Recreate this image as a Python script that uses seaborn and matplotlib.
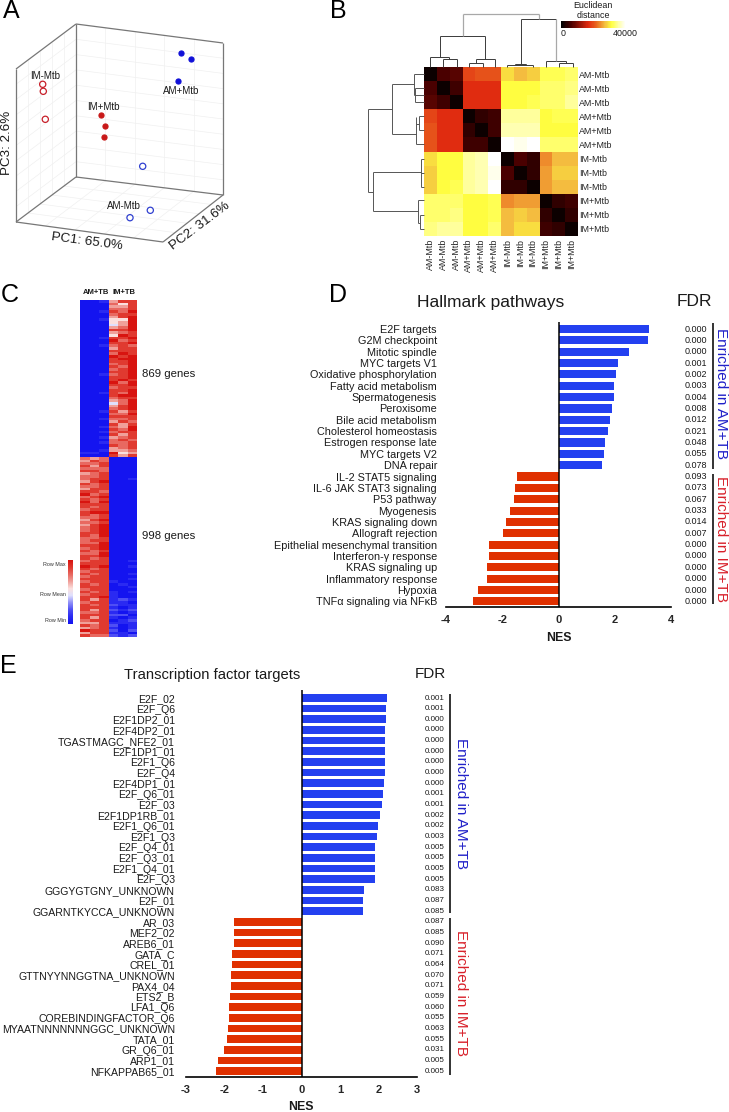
import numpy as np
import pandas as pd
import matplotlib
matplotlib.use("Agg")
import matplotlib.pyplot as plt
from matplotlib.colors import LinearSegmentedColormap
import seaborn as sns

sns.set_theme(style="white")
plt.rcParams["font.family"] = ["Liberation Sans", "DejaVu Sans"]
plt.rcParams["text.color"] = "#1a1a1a"

W, H = 729, 1112

# === Panel A: PCA points ===
pca_group = ["IM-Mtb"] * 3 + ["IM+Mtb"] * 3 + ["AM+Mtb"] * 3 + ["AM-Mtb"] * 3
pca_x = [42.7, 43.3, 45.3, 101.3, 105, 103.7, 180.7, 190.7, 178.3, 142.7, 150.3, 130]
pca_y = [84.3, 91.3, 119.3, 115, 126.3, 137, 52.7, 58.7, 81, 166.3, 210.3, 217.7]

# === Panel B: distance matrix (thousands) ===
dist_labels = ["AM-Mtb"] * 3 + ["AM+Mtb"] * 3 + ["IM-Mtb"] * 3 + ["IM+Mtb"] * 3
dist = [
    [1, 6, 7, 19, 20, 20, 29, 27, 28, 32, 32, 33],
    [6, 1, 5, 17, 17, 17, 31, 31, 31, 33, 33, 34],
    [7, 5, 1, 17, 17, 17, 31, 31, 32, 33, 33, 35],
    [19, 17, 17, 1, 4, 5, 35, 35, 35, 31, 32, 32],
    [20, 17, 17, 4, 1, 5, 36, 36, 36, 31, 31, 31],
    [20, 17, 17, 5, 5, 1, 40, 39, 40, 33, 33, 33],
    [29, 31, 31, 35, 36, 40, 1, 6, 4, 24, 27, 27],
    [28, 31, 31, 35, 36, 39, 6, 1, 4, 25, 28, 28],
    [28, 31, 32, 35, 36, 40, 4, 4, 1, 25, 27, 27],
    [33, 33, 33, 31, 31, 32, 24, 25, 25, 1, 4, 5],
    [33, 33, 34, 31, 31, 32, 27, 28, 27, 4, 1, 4],
    [34, 35, 35, 31, 31, 33, 27, 29, 29, 5, 4, 1],
]

# === Panel C: expression rows, 0 = row min, 9 = row max ===
genes_up_im = [
    "001688", "000758", "000668", "000778", "001879", "000788", "000689", "001559",
    "000569", "000469", "000679", "000889", "000678", "000598", "001889", "000978",
    "000889", "001787", "000688", "000888", "000798", "000989", "000899", "000889",
    "000789", "000879", "000789", "000889", "001789", "000889", "000898", "000979",
    "000889", "000788", "000889", "001879", "000899", "000788", "000679", "000479",
    "000689", "000789", "001868", "000779", "000888", "001778", "000687", "000868",
    "001769", "000879", "001788", "000868", "001678", "000787", "001778", "000878",
    "000678", "001667", "110956", "000868",
]
genes_up_am = [
    "767000", "687000", "778000", "868000", "777000", "887000", "678000", "778000",
    "788001", "689000", "878000", "778000", "688000", "887000", "978000", "789000",
    "878000", "979000", "888000", "878000", "788000", "899000", "878000", "778000",
    "689000", "778000", "689000", "789000", "789000", "889000", "879000", "778000",
    "788000", "779000", "889000", "789000", "878000", "779000", "889000", "878000",
    "788001", "888000", "989001", "878000", "788000", "878001", "788000", "888001",
    "788100", "878010", "888001", "788000", "878101", "788100", "889100", "868121",
    "788110", "878211", "888101", "868212", "778101", "888220", "868101", "788012",
    "668111", "878201", "678101", "988202", "688110", "877212",
]
row_colors = ["#1414f0", "#2a2af2", "#5050f4", "#9090f8", "#e0e0fd",
              "#fbe0de", "#f0a09a", "#e86a62", "#e03a30", "#d81410"]

# === Panel D: hallmark pathways ===
hallmark_names = [
    "E2F targets", "G2M checkpoint", "Mitotic spindle", "MYC targets V1",
    "Oxidative phosphorylation", "Fatty acid metabolism", "Spermatogenesis", "Peroxisome",
    "Bile acid metabolism", "Cholesterol homeostasis", "Estrogen response late",
    "MYC targets V2", "DNA repair", "IL-2 STAT5 signaling", "IL-6 JAK STAT3 signaling",
    "P53 pathway", "Myogenesis", "KRAS signaling down", "Allograft rejection",
    "Epithelial mesenchymal transition", "Interferon-γ response", "KRAS signaling up",
    "Inflammatory response", "Hypoxia", "TNFα signaling via NFκB",
]
hallmark_nes = [3.21, 3.18, 2.50, 2.12, 2.03, 1.99, 1.98, 1.89, 1.84, 1.77, 1.65, 1.61, 1.55,
                -1.49, -1.55, -1.58, -1.72, -1.86, -1.98, -2.47, -2.47, -2.54, -2.55, -2.87, -3.05]
hallmark_fdr = ["0.000", "0.000", "0.000", "0.001", "0.002", "0.003", "0.004", "0.008", "0.012",
                "0.021", "0.048", "0.055", "0.078", "0.093", "0.073", "0.067", "0.033", "0.014",
                "0.007", "0.000", "0.000", "0.000", "0.000", "0.000", "0.000"]

# === Panel E: transcription factor targets ===
tf_names = [
    "E2F_02", "E2F_Q6", "E2F1DP2_01", "E2F4DP2_01", "TGASTMAGC_NFE2_01", "E2F1DP1_01", "E2F1_Q6",
    "E2F_Q4", "E2F4DP1_01", "E2F_Q6_01", "E2F_03", "E2F1DP1RB_01", "E2F1_Q6_01", "E2F1_Q3",
    "E2F_Q4_01", "E2F_Q3_01", "E2F1_Q4_01", "E2F_Q3", "GGGYGTGNY_UNKNOWN", "E2F_01",
    "GGARNTKYCCA_UNKNOWN", "AR_03", "MEF2_02", "AREB6_01", "GATA_C", "CREL_01",
    "GTTNYYNNGGTNA_UNKNOWN", "PAX4_04", "ETS2_B", "LFA1_Q6", "COREBINDINGFACTOR_Q6",
    "MYAATNNNNNNNGGC_UNKNOWN", "TATA_01", "GR_Q6_01", "ARP1_01", "NFKAPPAB65_01",
]
tf_nes = [2.21, 2.19, 2.19, 2.18, 2.18, 2.17, 2.16, 2.16, 2.13, 2.12, 2.10, 2.03, 1.98, 1.97,
          1.92, 1.92, 1.91, 1.90, 1.62, 1.61, 1.61,
          -1.75, -1.76, -1.76, -1.80, -1.81, -1.82, -1.83, -1.87, -1.88, -1.89, -1.90, -1.94,
          -2.01, -2.16, -2.22]
tf_fdr = ["0.001", "0.001", "0.000", "0.000", "0.000", "0.000", "0.000", "0.000", "0.000", "0.001",
          "0.001", "0.002", "0.002", "0.003", "0.005", "0.005", "0.005", "0.005", "0.083", "0.087",
          "0.085", "0.087", "0.085", "0.090", "0.071", "0.064", "0.070", "0.071", "0.059", "0.060",
          "0.055", "0.063", "0.055", "0.031", "0.005", "0.005"]

BLUE = "#2340f0"
RED = "#e03000"
TEXT_BLUE = "#2020c8"
TEXT_RED = "#d8202a"


def px_axes(left, top, right, bottom, **kw):
    return fig.add_axes([left / W, 1 - bottom / H, (right - left) / W, (bottom - top) / H], **kw)


def lines(ax, segs, color="#555555", lw=0.8):
    for (x0, y0, x1, y1) in segs:
        ax.plot([x0, x1], [y0, y1], color=color, lw=lw, solid_capstyle="butt")


fig = plt.figure(figsize=(W / 100, H / 100), dpi=100)
page = px_axes(0, 0, W, H)
page.set_xlim(0, W)
page.set_ylim(H, 0)
page.axis("off")
page.set_zorder(5)
page.patch.set_alpha(0)

for letter, x, y in [("A", 11, 11), ("B", 338, 11), ("C", 10, 295), ("D", 338, 295), ("E", 8, 666)]:
    page.text(x, y, letter, fontsize=18, ha="center", va="center", color="black")

# === Panel A ===
# wall and floor grid
for f in np.arange(0.1, 1, 0.1):
    lines(page, [(76, 24 + 153 * f, 223, 43 + 152 * f), (16, 69 + 153 * f, 76, 24 + 153 * f)], "#f0f0f0", 0.5)
for f in [0.2, 0.4, 0.6, 0.8]:
    lines(page, [(76 + 147 * f, 24 + 19 * f, 76 + 147 * f, 177 + 18 * f),
                 (76 + 147 * f, 177 + 18 * f, 16 + 147 * f, 222 + 20 * f),
                 (76 - 60 * f, 177 + 45 * f, 223 - 60 * f, 195 + 47 * f),
                 (76 - 60 * f, 24 + 45 * f, 76 - 60 * f, 177 + 45 * f)], "#f0f0f0", 0.5)
lines(page, [(16, 69, 76, 24), (76, 24, 223, 43), (223, 43, 223, 195), (76, 24, 76, 177),
             (16, 69, 16, 222), (16, 222, 76, 177), (76, 177, 223, 195), (16, 222, 163, 242),
             (163, 242, 223, 195)], "#777777", 0.9)

pca = pd.DataFrame({"x": pca_x, "y": pca_y, "group": pca_group})
pca_edge = {"IM-Mtb": "#c8202a", "IM+Mtb": "#c81818", "AM+Mtb": "#1010d8", "AM-Mtb": "#3040d0"}
pca_face = {"IM-Mtb": "none", "IM+Mtb": "#c81818", "AM+Mtb": "#1010d8", "AM-Mtb": "none"}
for name, part in pca.groupby("group"):
    sns.scatterplot(data=part, x="x", y="y", ax=page, s=13 if pca_face[name] != "none" else 20,
                    marker="o", linewidth=0.9, facecolor=pca_face[name], edgecolor=pca_edge[name],
                    legend=False, zorder=4)
page.set_xlim(0, W)
page.set_ylim(H, 0)
page.axis("off")

for txt, x, y in [("IM-Mtb", 45, 76), ("IM+Mtb", 103, 107), ("AM+Mtb", 181, 91), ("AM-Mtb", 124, 206)]:
    page.text(x, y, txt, fontsize=7, ha="center", va="center")
page.text(87, 242, "PC1: 65.0%", fontsize=9.6, rotation=-7.5, ha="center", va="center", rotation_mode="anchor")
page.text(200, 226, "PC2: 31.6%", fontsize=9.6, rotation=37, ha="center", va="center", rotation_mode="anchor")
page.text(7, 143, "PC3: 2.6%", fontsize=9.6, rotation=90, ha="center", va="center", rotation_mode="anchor")

# === Panel B ===
dist_cmap = LinearSegmentedColormap.from_list(
    "dist", [(0, "#000000"), (0.15, "#4a0000"), (0.42, "#e02a10"), (0.55, "#ea6a20"),
             (0.68, "#f4c040"), (0.78, "#ffff40"), (0.9, "#ffffb0"), (1, "#ffffff")])
ax_b = px_axes(424, 67, 578, 236)
sns.heatmap(np.array(dist), ax=ax_b, cmap=dist_cmap, vmin=0, vmax=40, cbar=False,
            xticklabels=dist_labels, yticklabels=dist_labels)
ax_b.yaxis.tick_right()
ax_b.tick_params(axis="y", labelsize=6.4, length=0, pad=1, rotation=0)
ax_b.tick_params(axis="x", labelsize=6.4, length=0, pad=2, rotation=90)

ax_cb = px_axes(561, 21, 626, 28)
sns.heatmap(np.linspace(0, 40, 120).reshape(1, -1), ax=ax_cb, cmap=dist_cmap, vmin=0, vmax=40, cbar=False,
            xticklabels=False, yticklabels=False)
page.text(593, 5, "Euclidean", fontsize=6.4, ha="center", va="center")
page.text(593, 15, "distance", fontsize=6.4, ha="center", va="center")
page.text(563, 33, "0", fontsize=6.4, ha="center", va="center")
page.text(625, 33, "40000", fontsize=6.4, ha="center", va="center")


def zx(v):
    return 300 + v / 3


def zy(v):
    return v / 3


# dendrograms, zoomed coordinates
top_dark = [(420, 108, 555, 108), (420, 108, 420, 172), (555, 108, 555, 178), (391, 172, 448, 172),
            (391, 172, 391, 201), (430, 176, 470, 176), (430, 176, 430, 201), (470, 176, 470, 201),
            (448, 172, 448, 176), (508, 188, 548, 188), (527, 178, 585, 178), (585, 178, 585, 201),
            (508, 188, 508, 201), (548, 188, 548, 201), (527, 178, 527, 188),
            (662, 58, 768, 58), (662, 58, 662, 192), (738, 184, 797, 184), (738, 184, 738, 201),
            (778, 190, 818, 190), (778, 190, 778, 201), (818, 190, 818, 201), (797, 184, 797, 190),
            (622, 195, 700, 195), (622, 195, 622, 201), (700, 195, 700, 201), (645, 192, 678, 192),
            (645, 192, 645, 195), (678, 192, 678, 195)]
top_grey = [(488, 42, 716, 42), (488, 42, 488, 108), (716, 42, 716, 58), (768, 58, 768, 184)]
left_dark = [(203, 327, 275, 327), (203, 327, 203, 575), (203, 575, 220, 575),
             (275, 253, 275, 402), (275, 253, 343, 253), (275, 402, 347, 402),
             (343, 222, 343, 285), (343, 222, 372, 222), (343, 285, 372, 285),
             (347, 350, 347, 432), (347, 372, 358, 372), (358, 349, 358, 391),
             (358, 349, 372, 349), (358, 391, 372, 391), (347, 433, 372, 433),
             (345, 264, 372, 264), (345, 264, 345, 306), (345, 306, 372, 306),
             (220, 517, 220, 632), (220, 517, 362, 517), (220, 632, 355, 632),
             (362, 478, 362, 560), (362, 478, 372, 478), (362, 518, 372, 518), (362, 560, 372, 560),
             (355, 600, 355, 668), (355, 600, 372, 600), (355, 668, 360, 668),
             (360, 644, 360, 686), (360, 644, 372, 644), (360, 686, 372, 686)]
lines(page, [(zx(a), zy(b), zx(c), zy(d)) for a, b, c, d in top_dark], "#3a3a3a", 0.7)
lines(page, [(zx(a), zy(b), zx(c), zy(d)) for a, b, c, d in top_grey], "#a8a8a8", 0.9)
lines(page, [(zx(a), zy(b), zx(c), zy(d)) for a, b, c, d in left_dark], "#555555", 0.7)

# === Panel C ===
row_cmap = LinearSegmentedColormap.from_list("row", row_colors)
ax_c1 = px_axes(80, 300, 137, 457)
sns.heatmap(np.array([[int(c) for c in r] for r in genes_up_im]), ax=ax_c1, cmap=row_cmap, vmin=0, vmax=9,
            cbar=False, xticklabels=False, yticklabels=False)
ax_c2 = px_axes(80, 457, 137, 637)
sns.heatmap(np.array([[int(c) for c in r] for r in genes_up_am]), ax=ax_c2, cmap=row_cmap, vmin=0, vmax=9,
            cbar=False, xticklabels=False, yticklabels=False)
ax_scale = px_axes(68, 560, 73, 624)
sns.heatmap(np.linspace(9, 0, 64).reshape(-1, 1), ax=ax_scale, cmap=row_cmap, vmin=0, vmax=9, cbar=False,
            xticklabels=False, yticklabels=False)
page.text(96, 293, "AM+TB", fontsize=5.5, fontweight="bold", ha="center", va="center")
page.text(124, 293, "IM+TB", fontsize=5.5, fontweight="bold", ha="center", va="center")
page.text(142, 374, "869 genes", fontsize=8.2, ha="left", va="center")
page.text(142, 536, "998 genes", fontsize=8.2, ha="left", va="center")
for txt, y in [("Row Max", 565), ("Row Mean", 594), ("Row Min", 620)]:
    page.text(66, y, txt, fontsize=3.9, ha="right", va="center", color="#333333")


# === Panels D, E: NES bars ===
def nes_bars(names, nes, fdr, box, first, step, xlim, ticks, fdr_x, fdr_size, label_size, label_pad):
    left, right, top, bottom = box
    ax = px_axes(left, top, right, bottom)
    df = pd.DataFrame({"name": names, "nes": nes})
    df["side"] = np.where(df["nes"] > 0, "am", "im")
    sns.barplot(data=df, y="name", x="nes", hue="side", palette={"am": BLUE, "im": RED}, order=names,
                orient="h", dodge=False, width=0.72, legend=False, ax=ax, saturation=1, linewidth=0)
    ax.set_ylim((bottom - first) / step, (top - first) / step)
    ax.set_xlim(*xlim)
    ax.set_xticks(ticks)
    ax.set_xlabel("")
    ax.set_ylabel("")
    ax.patch.set_alpha(0)
    sns.despine(ax=ax, left=True)
    ax.spines["bottom"].set_color("black")
    ax.spines["bottom"].set_linewidth(1.2)
    ax.axvline(0, color="black", lw=1.1)
    ax.tick_params(axis="y", length=0, pad=label_pad, labelsize=label_size, labelcolor="#1a1a1a")
    ax.tick_params(axis="x", length=3.5, width=1.1, color="black", pad=2.2, labelsize=8)
    ax.set_xticklabels([str(t) for t in ticks], fontweight="bold")
    for i, val in enumerate(fdr):
        page.text(fdr_x, first + i * step, val, fontsize=fdr_size, ha="right", va="center")
    return ax


nes_bars(hallmark_names, hallmark_nes, hallmark_fdr, (446, 671, 322, 607), 329, 11.35, (-4, 4),
         [-4, -2, 0, 2, 4], 707, 6.5, 7.8, 6.5)
nes_bars(tf_names, tf_nes, tf_fdr, (186, 417, 690, 1077), 698, 10.66, (-3, 3),
         [-3, -2, -1, 0, 1, 2, 3], 445, 5.8, 7.6, 8)

page.text(491, 302, "Hallmark pathways", fontsize=12.5, ha="center", va="center")
page.text(694, 302, "FDR", fontsize=12.5, ha="center", va="center")
page.text(559, 638, "NES", fontsize=8.9, fontweight="bold", ha="center", va="center")
page.text(212, 675, "Transcription factor targets", fontsize=10.6, ha="center", va="center")
page.text(430, 674, "FDR", fontsize=11, ha="center", va="center")
page.text(301, 1107, "NES", fontsize=8.9, fontweight="bold", ha="center", va="center")

lines(page, [(713, 323, 713, 469), (713, 474, 713, 604), (450, 694, 450, 913), (450, 918, 450, 1075)], "#111111", 1.2)
page.text(721, 393, "Enriched in AM+TB", fontsize=11, rotation=270, color=TEXT_BLUE, ha="center", va="center")
page.text(721, 539, "Enriched in IM+TB", fontsize=11, rotation=270, color=TEXT_RED, ha="center", va="center")
page.text(461, 803, "Enriched in AM+TB", fontsize=11, rotation=270, color=TEXT_BLUE, ha="center", va="center")
page.text(461, 993, "Enriched in IM+TB", fontsize=11, rotation=270, color=TEXT_RED, ha="center", va="center")

fig.savefig("out.png", dpi=100)
